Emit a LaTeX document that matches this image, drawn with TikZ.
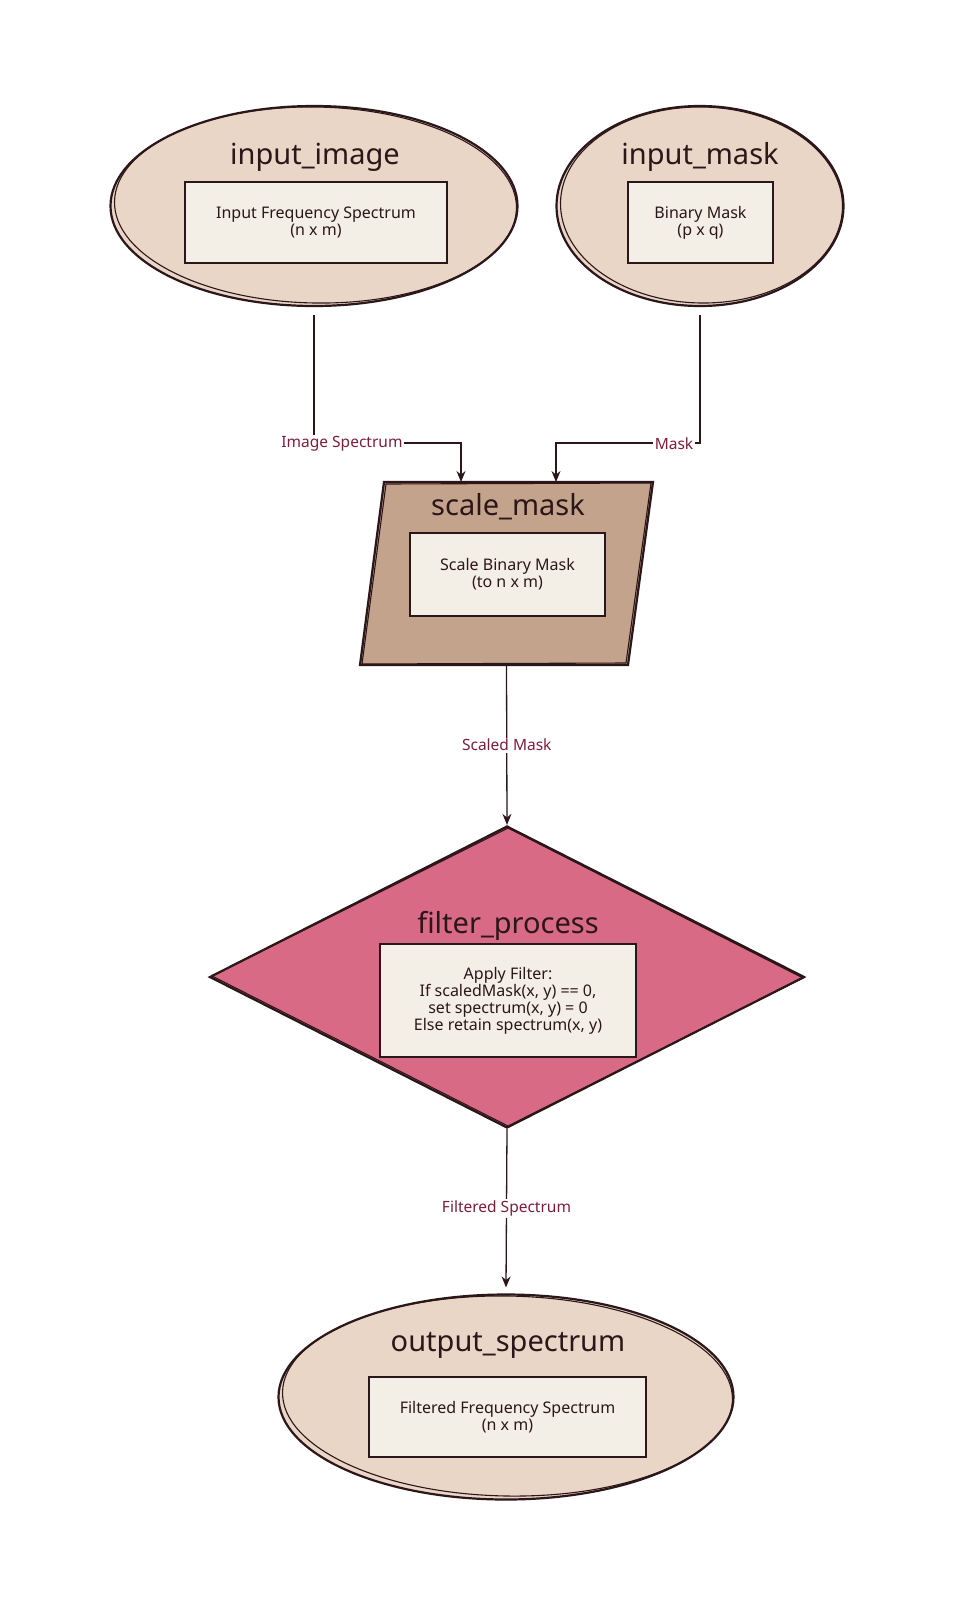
\documentclass[tikz,border=0pt]{standalone}
\usepackage{fontspec}
\setmainfont{Noto Sans}
\usetikzlibrary{shapes.geometric,arrows.meta}
\definecolor{ink}{HTML}{2B1619}
\definecolor{ellfill}{HTML}{E9D6C6}
\definecolor{boxfill}{HTML}{F4EFE6}
\definecolor{parafill}{HTML}{C4A38C}
\definecolor{diafill}{HTML}{D96A86}
\definecolor{lblcol}{HTML}{7B1E3A}
\begin{document}
\begin{tikzpicture}[x=1pt,y=-1pt,
  ell/.style={ellipse, draw=ink, line width=2.2pt, fill=ellfill, inner sep=0pt},
  sketch/.style={draw=ink, line width=1.1pt},
  inbox/.style={rectangle, draw=ink, line width=2pt, fill=boxfill, inner sep=0pt, align=center, text=ink, font=\fontsize{16}{17}\selectfont},
  ttl/.style={font=\fontsize{29}{32}\selectfont, text=ink, inner sep=0pt},
  conn/.style={draw=ink, line width=1.3pt, -{Stealth[length=11pt,width=9pt]}},
  lbl/.style={font=\fontsize{15.5}{17}\selectfont, text=lblcol, fill=white, inner sep=1.5pt}]
\useasboundingbox[fill=white] (0,0) rectangle (953,1609);

% input_image
\node[ell, minimum width=407pt, minimum height=200pt] (inimg) at (314,206) {};
\draw[sketch] (315.5,205) ellipse [x radius=201pt, y radius=98pt, rotate=-1];
\node[ttl] (inimgt) at (315,157) {input\_image};
\node[inbox, minimum width=262pt, minimum height=81pt] (inimgb) at (316,222.5) {Input Frequency Spectrum\\(n x m)};

% input_mask
\node[ell, minimum width=287pt, minimum height=200pt] (inmask) at (700,206) {};
\draw[sketch] (701.5,205) ellipse [x radius=141pt, y radius=98pt, rotate=-1];
\node[ttl] (inmaskt) at (700,157) {input\_mask};
\node[inbox, minimum width=145pt, minimum height=81pt] (inmaskb) at (700.5,222.5) {Binary Mask\\(p x q)};

% scale_mask
\draw[draw=ink, line width=2.2pt, fill=parafill] (384,482) -- (653,482) -- (628,665) -- (360,665) -- cycle;
\draw[sketch] (386,484) -- (651,483) -- (626,663) -- (362,664) -- cycle;
\node[minimum width=269pt, minimum height=183pt, inner sep=0pt] (scale) at (506.5,573.5) {};
\node[ttl] (scalet) at (508,507) {scale\_mask};
\node[inbox, minimum width=195pt, minimum height=83pt] (scaleb) at (507.5,574.5) {Scale Binary Mask\\(to n x m)};

% filter_process
\node[diamond, draw=ink, line width=2.2pt, fill=diafill, inner sep=0pt, minimum width=595pt, minimum height=302pt] (filt) at (507,977) {};
\draw[sketch] (508,828) -- (803,978) -- (508,1126) -- (212,976) -- cycle;
\node[ttl] (filtt) at (508,926) {filter\_process};
\node[inbox, minimum width=256pt, minimum height=113pt] (filtb) at (508,1000.5) {Apply Filter:\\If scaledMask(x, y) == 0,\\set spectrum(x, y) = 0\\Else retain spectrum(x, y)};

% output_spectrum
\node[ell, minimum width=455pt, minimum height=205pt] (out) at (506,1397) {};
\draw[sketch] (507.5,1396) ellipse [x radius=225pt, y radius=100pt, rotate=-1];
\node[ttl] (outt) at (508,1345) {output\_spectrum};
\node[inbox, minimum width=277pt, minimum height=80pt] (outb) at (507.5,1417) {Filtered Frequency Spectrum\\(n x m)};

% connectors
\coordinate (k1) at (315,443);
\coordinate (k2) at (701,443);
\coordinate (sA) at (461,482);
\coordinate (sB) at (556,482);
\draw[conn] ([yshift=-8pt]inimg.south) -- (inimg.south |- k1) -| (sA);
\draw[conn] ([yshift=-8pt]inmask.south) -- (inmask.south |- k2) -| (sB);
\node[lbl] (l1) at (342,444) {Image Spectrum};
\node[lbl] (l2) at (674,444) {Mask};
\draw[conn] (scale.south) -- node[lbl] (l3) {Scaled Mask} (filt.north);
\draw[conn] (filt.south) -- node[lbl] (l4) {Filtered Spectrum} ([yshift=6pt]out.north);
\end{tikzpicture}
\end{document}
